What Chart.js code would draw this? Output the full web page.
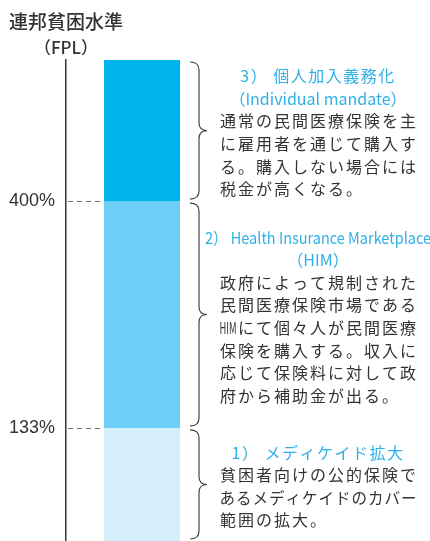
<!DOCTYPE html>
<html>
<head>
<meta charset="utf-8">
<script src="https://cdn.jsdelivr.net/npm/chart.js@4"></script>
<style>
  html, body { margin: 0; padding: 0; background: #fff; overflow: hidden; }
  canvas { display: block; }
</style>
</head>
<body>
<canvas id="fplchart" width="430" height="541"></canvas>
<script>
// bands of the federal poverty level, bottom to top
const categories = ['FPL'];
const bandNames = ['メディケイド拡大', 'Health Insurance Marketplace', '個人加入義務化'];
const bandValues = [133, 267, 166];   // 0-133%, 133-400%, 400%-top
const bandColors = ['#d4eefa', '#6dcff6', '#00b5ee'];
const tickValues = [133, 400];
const tickLabels = ['133%', '400%'];
const axisTitle = ['連邦貧困水準', '（FPL）'];

const headings = [
  ['1） メディケイド拡大'],
  ['2） Health Insurance Marketplace', '（HIM）'],
  ['3） 個人加入義務化', '（Individual mandate）'],
];
const bodies = [
  ['貧困者向けの公的保険で', 'あるメディケイドのカバー', '範囲の拡大。'],
  ['政府によって規制された', '民間医療保険市場である', 'HIMにて個々人が民間医療',
   '保険を購入する。収入に', '応じて保険料に対して政', '府から補助金が出る。'],
  ['通常の民間医療保険を主', 'に雇用者を通じて購入す', 'る。購入しない場合には', '税金が高くなる。'],
];

const FONT = '"Noto Sans CJK JP", "Noto Sans", sans-serif';
const units = s => s.match(/HIM|./gu);
const isLatin = s => /[A-Za-z]{3,}/.test(s);

function drawBrace(ctx, xh, xs, xt, top, bot) {
  const mid = (top + bot) / 2;
  const r = 8;
  ctx.beginPath();
  ctx.moveTo(xh, top);
  ctx.quadraticCurveTo(xs, top, xs, top + r);
  ctx.lineTo(xs, mid - r);
  ctx.quadraticCurveTo(xs, mid, xt, mid);
  ctx.quadraticCurveTo(xs, mid, xs, mid + r);
  ctx.lineTo(xs, bot - r);
  ctx.quadraticCurveTo(xs, bot, xh, bot);
  ctx.stroke();
}

const notesPlugin = {
  id: 'fplNotes',
  beforeDatasetsDraw(chart) {
    const { ctx, chartArea, scales: { y } } = chart;
    const bar = chart.getDatasetMeta(0).data[0];
    const barLeft = bar.x - bar.width / 2;
    ctx.save();
    ctx.strokeStyle = '#6b6b6b';
    ctx.lineWidth = 1;
    ctx.setLineDash([5, 4]);
    tickValues.forEach(v => {
      const py = Math.round(y.getPixelForValue(v)) + 0.5;
      ctx.beginPath();
      ctx.moveTo(chartArea.left + 2, py);
      ctx.lineTo(barLeft, py);
      ctx.stroke();
    });
    ctx.restore();
  },
  afterDatasetsDraw(chart) {
    const { ctx } = chart;
    ctx.save();
    ctx.textBaseline = 'middle';

    // axis title
    ctx.fillStyle = '#333';
    ctx.textAlign = 'left';
    ctx.font = '500 19px ' + FONT;
    ctx.fillText(axisTitle[0], 9, 22);
    ctx.textAlign = 'center';
    ctx.font = '500 17px ' + FONT;
    ctx.fillText(axisTitle[1], 66, 48);

    chart.data.datasets.forEach((ds, i) => {
      const el = chart.getDatasetMeta(i).data[0];
      const top = el.y, bot = el.base;
      const right = el.x + el.width / 2;

      ctx.strokeStyle = '#444';
      ctx.lineWidth = 1.2;
      drawBrace(ctx, right + 10, right + 19, right + 27, top + 2, bot - 2);

      const x0 = right + 39, x1 = right + 237, cx = (x0 + x1) / 2;
      const heads = headings[i], lines = bodies[i];
      const lh = 22.6;
      const n = heads.length + lines.length;
      let ly = (top + bot) / 2 + 2 - (n - 1) * lh / 2;

      ctx.fillStyle = '#2fb0e6';
      ctx.textAlign = 'center';
      ctx.font = '16px ' + FONT;
      heads.forEach(h => {
        ctx.letterSpacing = isLatin(h) ? '0px' : '1.5px';
        ctx.fillText(h, cx, ly, 226);
        ly += lh;
      });
      ctx.letterSpacing = '0px';

      ctx.fillStyle = '#333';
      ctx.font = '16px ' + FONT;
      const basePitch = (x1 - x0) / units(lines[0]).length;
      lines.forEach((line, k) => {
        const u = units(line);
        const pitch = k < lines.length - 1 ? (x1 - x0) / u.length : basePitch;
        u.forEach((c, j) => {
          ctx.fillText(c, x0 + pitch * (j + 0.5), ly, pitch - 1);
        });
        ly += lh;
      });
    });
    ctx.restore();
  }
};

new Chart(document.getElementById('fplchart'), {
  type: 'bar',
  data: {
    labels: categories,
    datasets: bandValues.map((v, i) => ({
      label: bandNames[i],
      data: [v],
      backgroundColor: bandColors[i],
      borderWidth: 0,
      categoryPercentage: 1,
      barPercentage: 0.5,
    })),
  },
  options: {
    responsive: false,
    animation: false,
    layout: { padding: { top: 60, right: 212, bottom: 0, left: 0 } },
    plugins: {
      legend: { display: false },
      tooltip: { enabled: false },
    },
    scales: {
      x: { display: false, stacked: true },
      y: {
        stacked: true,
        min: 0,
        max: 566,
        afterFit: s => { s.width = 66; s.paddingTop = 0; s.paddingBottom = 0; },
        afterBuildTicks: s => { s.ticks = tickValues.map(v => ({ value: v })); },
        ticks: {
          callback: v => tickLabels[tickValues.indexOf(v)],
          padding: 11,
          color: '#333',
          font: { family: '"Liberation Sans", Arial, sans-serif', size: 18 },
        },
        grid: { display: true, color: 'rgba(0,0,0,0)', drawTicks: false },
        border: { display: true, color: '#333', width: 1.5 },
      },
    },
  },
  plugins: [notesPlugin],
});
</script>
</body>
</html>
